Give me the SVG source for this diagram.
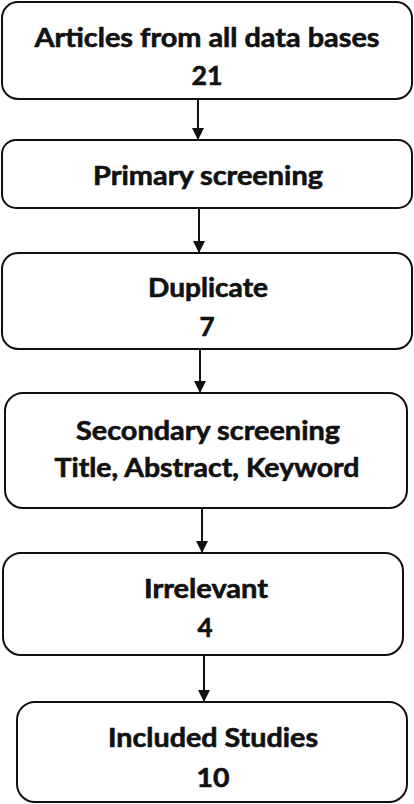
<svg xmlns="http://www.w3.org/2000/svg" width="414" height="804" viewBox="0 0 414 804">
<defs>
<style>
.box{fill:#fff;stroke:#111;stroke-width:2}
.t{font-family:Lato,"Open Sans","Liberation Sans",sans-serif;font-weight:bold;font-size:26px;fill:#111;stroke:#111;stroke-width:0.6;text-anchor:middle}
.c{stroke:#111;stroke-width:2;fill:none}
</style>
<marker id="ah" viewBox="0 0 12 12" refX="12" refY="6" markerWidth="12" markerHeight="12" markerUnits="userSpaceOnUse" orient="auto">
<path d="M0,0 L12,6 L0,12 Z" fill="#111"/>
</marker>
</defs>
<rect width="414" height="804" fill="#fff"/>
<g id="connectors">
<line class="c" x1="198" y1="99" x2="198" y2="140" marker-end="url(#ah)"/>
<line class="c" x1="199" y1="208" x2="199" y2="253" marker-end="url(#ah)"/>
<line class="c" x1="200" y1="349" x2="200" y2="393" marker-end="url(#ah)"/>
<line class="c" x1="202" y1="508" x2="202" y2="553" marker-end="url(#ah)"/>
<line class="c" x1="204" y1="655" x2="204" y2="702" marker-end="url(#ah)"/>
</g>
<g id="n1">
<rect class="box" x="2" y="2" width="410" height="97" rx="16"/>
<text class="t" x="207" y="47" textLength="345" lengthAdjust="spacingAndGlyphs">Articles from all data bases</text>
<text class="t" x="207" y="85" textLength="31" lengthAdjust="spacingAndGlyphs">21</text>
</g>
<g id="n2">
<rect class="box" x="2" y="140" width="410" height="68" rx="14"/>
<text class="t" x="208" y="185" textLength="230" lengthAdjust="spacingAndGlyphs">Primary screening</text>
</g>
<g id="n3">
<rect class="box" x="2" y="253" width="410" height="96" rx="16"/>
<text class="t" x="208" y="297" textLength="120" lengthAdjust="spacingAndGlyphs">Duplicate</text>
<text class="t" x="207" y="336">7</text>
</g>
<g id="n4">
<rect class="box" x="5" y="393" width="402" height="115" rx="18"/>
<text class="t" x="208" y="440" textLength="264" lengthAdjust="spacingAndGlyphs">Secondary screening</text>
<text class="t" x="207" y="477" textLength="305" lengthAdjust="spacingAndGlyphs">Title, Abstract, Keyword</text>
</g>
<g id="n5">
<rect class="box" x="3" y="553" width="400" height="102" rx="18"/>
<text class="t" x="206" y="598" textLength="124" lengthAdjust="spacingAndGlyphs">Irrelevant</text>
<text class="t" x="205" y="637">4</text>
</g>
<g id="n6">
<rect class="box" x="17" y="702" width="390" height="100" rx="18"/>
<text class="t" x="213" y="747" textLength="210" lengthAdjust="spacingAndGlyphs">Included Studies</text>
<text class="t" x="213" y="787" textLength="33" lengthAdjust="spacingAndGlyphs">10</text>
</g>
</svg>
